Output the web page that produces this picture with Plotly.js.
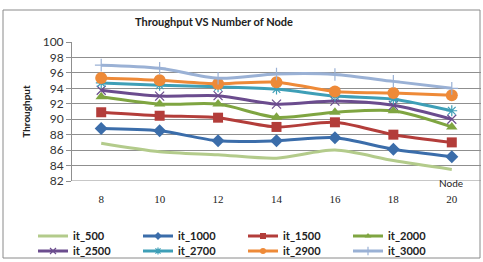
<!DOCTYPE html>
<html>
<head>
<meta charset="utf-8">
<script src="https://cdn.plot.ly/plotly-3.0.1.min.js"></script>
<style>
  html, body { margin: 0; padding: 0; background: #fff; }
  #chart { width: 483px; height: 262px; }
</style>
</head>
<body>
<div id="chart"></div>
<script>
// Number of nodes on the x axis
const nodes = [8, 10, 12, 14, 16, 18, 20];

// Throughput per iteration setting
const it_500  = [86.9, 85.8, 85.4, 84.95, 86.0, 84.65, 83.5];
const it_1000 = [88.8, 88.5, 87.2, 87.2, 87.6, 86.1, 85.15];
const it_1500 = [90.9, 90.45, 90.2, 89.0, 89.6, 88.0, 87.0];
const it_2000 = [92.9, 91.96, 91.96, 90.25, 90.9, 91.1, 89.0];
const it_2500 = [93.75, 93.0, 93.05, 91.95, 92.35, 91.8, 90.0];
const it_2700 = [94.7, 94.4, 94.2, 93.9, 93.0, 92.6, 91.1];
const it_2900 = [95.35, 95.05, 94.6, 94.8, 93.6, 93.4, 93.1];
const it_3000 = [97.0, 96.6, 95.3, 95.85, 95.8, 94.9, 94.0];

const seriesNames = ["it_500", "it_1000", "it_1500", "it_2000", "it_2500", "it_2700", "it_2900", "it_3000"];
const seriesValues = [it_500, it_1000, it_1500, it_2000, it_2500, it_2700, it_2900, it_3000];

const yTicks = [82, 84, 86, 88, 90, 92, 94, 96, 98, 100];

// Styling per series
const styles = [
  { color: "#B3CB8B", symbol: null },
  { color: "#3B6DAA", symbol: "diamond", size: 10 },
  { color: "#B33D3A", symbol: "square", size: 10 },
  { color: "#7FA541", symbol: "triangle-up", size: 10 },
  { color: "#6B4C8E", symbol: "x-thin-open", size: 9 },
  { color: "#3E9FB7", symbol: "asterisk-open", size: 9 },
  { color: "#EE8A38", symbol: "circle", size: 12 },
  { color: "#9AB1D5", symbol: "cross-thin-open", size: 9 }
];

function markerFor(s, size) {
  return {
    symbol: s.symbol,
    size: size,
    color: s.color,
    line: { color: s.color, width: s.symbol.indexOf("open") >= 0 ? 1.2 : 0 }
  };
}

// Data traces (plotted lines)
const traces = seriesNames.map((name, i) => {
  const s = styles[i];
  const t = {
    type: "scatter",
    name: name,
    x: nodes,
    y: seriesValues[i],
    line: { color: s.color, width: 3, shape: "spline", smoothing: 0.8 },
    mode: s.symbol ? "lines+markers" : "lines",
    showlegend: false,
    legendgroup: name,
    cliponaxis: false
  };
  if (s.symbol) t.marker = markerFor(s, s.size);
  return t;
});

// Legend entries with small key markers, four per row
const legendTraces = seriesNames.map((name, i) => {
  const s = styles[i];
  const t = {
    type: "scatter",
    name: name,
    x: [null],
    y: [null],
    line: { color: s.color, width: 3 },
    mode: s.symbol ? "lines+markers" : "lines",
    showlegend: true,
    legendgroup: name,
    legend: i < 4 ? "legend" : "legend2"
  };
  if (s.symbol) t.marker = markerFor(s, 6);
  return t;
});

// Plot area spans px 72..481 horizontally and 42..181 vertically
const pxX = px => (px - 72) / 409;
const pxY = py => (181 - py) / 139;

const legendBase = {
  orientation: "h",
  x: pxX(33),
  xanchor: "left",
  yanchor: "middle",
  entrywidth: 60,
  entrywidthmode: "pixels",
  itemwidth: 30,
  tracegroupgap: 0,
  font: { family: "Lato, 'Open Sans', sans-serif", size: 11, color: "#222", weight: "bold" },
  bgcolor: "rgba(0,0,0,0)"
};

const layout = {
  width: 483,
  height: 262,
  margin: { l: 72, r: 2, t: 42, b: 81, autoexpand: false },
  paper_bgcolor: "#ffffff",
  plot_bgcolor: "#ffffff",
  showlegend: true,
  title: {
    text: "<b>Throughput VS Number of Node</b>",
    font: { family: "Lato, 'Open Sans', sans-serif", size: 11, color: "#222" },
    x: 214 / 483,
    xanchor: "center",
    y: 1 - 22 / 262,
    yanchor: "middle"
  },
  xaxis: {
    range: [7, 21],
    tickvals: nodes,
    ticktext: nodes.map(String),
    showgrid: false,
    zeroline: false,
    showline: false,
    ticks: "outside",
    ticklen: 8,
    tickcolor: "rgba(0,0,0,0)",
    tickfont: { family: "'Liberation Serif', 'DejaVu Serif', serif", size: 11, color: "#222" },
    fixedrange: true
  },
  yaxis: {
    range: [82, 100],
    tickvals: yTicks,
    showgrid: true,
    gridcolor: "#8f8f8f",
    gridwidth: 1,
    zeroline: false,
    showline: true,
    linecolor: "#8f8f8f",
    linewidth: 1,
    ticks: "outside",
    ticklen: 5,
    tickcolor: "#8f8f8f",
    tickfont: { family: "Lato, 'Open Sans', sans-serif", size: 12, color: "#333" },
    title: {
      text: "<b>Throughput</b>",
      font: { family: "Lato, 'Open Sans', sans-serif", size: 10, color: "#222" },
      standoff: 10
    },
    fixedrange: true
  },
  legend: Object.assign({}, legendBase, { y: pxY(236) }),
  legend2: Object.assign({}, legendBase, { y: pxY(251) }),
  annotations: [
    {
      text: "Node",
      xref: "paper", yref: "paper",
      x: pxX(451), y: pxY(183),
      xanchor: "center", yanchor: "middle",
      showarrow: false,
      font: { family: "Lato, 'Open Sans', sans-serif", size: 10, color: "#222" }
    }
  ],
  shapes: [
    // outer chart frame
    {
      type: "rect", xref: "paper", yref: "paper",
      x0: pxX(3), x1: pxX(480), y0: pxY(258), y1: pxY(10),
      line: { color: "#8a8a8a", width: 1 },
      layer: "below"
    },
    // bottom axis line
    {
      type: "line", xref: "paper", yref: "y",
      x0: 0, x1: 1, y0: 82, y1: 82,
      line: { color: "#8f8f8f", width: 1 },
      layer: "below"
    }
  ]
};

Plotly.newPlot("chart", traces.concat(legendTraces), layout, { displayModeBar: false, staticPlot: true });
</script>
</body>
</html>
